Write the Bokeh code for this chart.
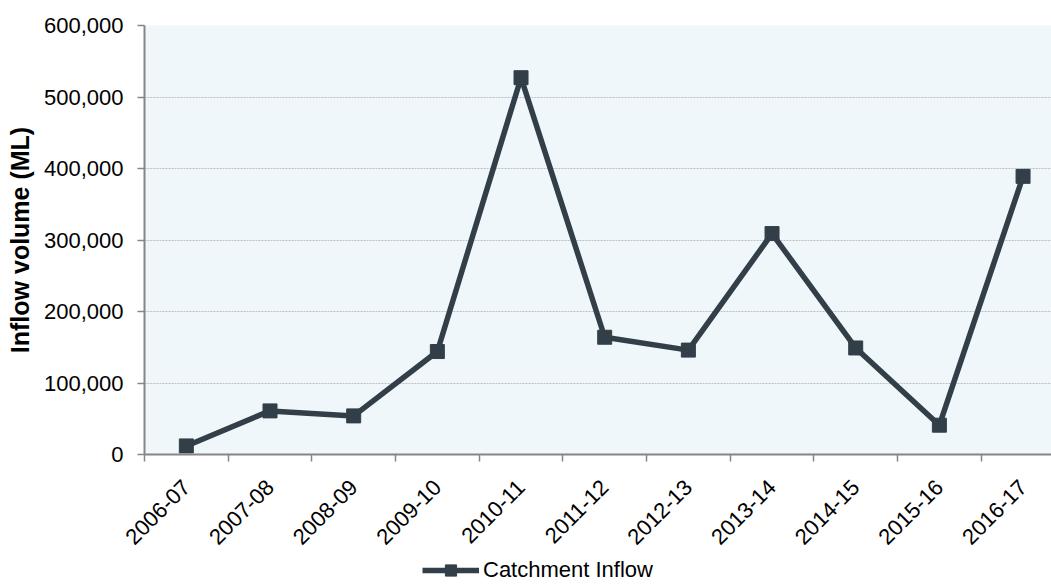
import math
from bokeh.plotting import figure
from bokeh.layouts import column
from bokeh.models import FixedTicker, NumeralTickFormatter, Legend, LegendItem, Range1d
from bokeh.embed import file_html
from bokeh.resources import INLINE

years = ["2006-07", "2007-08", "2008-09", "2009-10", "2010-11", "2011-12",
         "2012-13", "2013-14", "2014-15", "2015-16", "2016-17"]
inflow = [12000, 61000, 54000, 144000, 527000, 164000,
          146000, 309000, 149000, 41000, 389000]
y_ticks = [0, 100000, 200000, 300000, 400000, 500000, 600000]
series_name = "Catchment Inflow"

x = [i + 0.5 for i in range(len(years))]
bounds = [float(i) for i in range(len(years))]

FONT = "Liberation Sans"
LINE = "#333F48"
AXIS = "#868686"

p = figure(width=1051, height=556, output_backend="svg", toolbar_location=None,
           x_range=Range1d(0, 10.84), y_range=Range1d(0, 600000),
           min_border_left=144, min_border_right=0, min_border_top=25,
           min_border_bottom=102)
p.background_fill_color = "#F0F7FB"
p.border_fill_color = "white"
p.outline_line_color = None

p.line(x, inflow, line_color=LINE, line_width=5.5)
p.scatter(x, inflow, marker="square", size=14, color=LINE)

# x axis
xa = p.xaxis[0]
xa.ticker = FixedTicker(ticks=x, minor_ticks=bounds)
xa.major_label_overrides = {xi: yr for xi, yr in zip(x, years)}
xa.major_tick_out = 0
xa.major_tick_in = 0
xa.minor_tick_out = 7
xa.minor_tick_in = 0
xa.minor_tick_line_color = AXIS
xa.minor_tick_line_width = 1.5
xa.axis_line_color = AXIS
xa.axis_line_width = 2
xa.major_label_orientation = math.pi / 4
xa.major_label_text_font = FONT
xa.major_label_text_font_size = "22px"
xa.major_label_text_color = "#000000"
xa.major_label_standoff = 22

# y axis
ya = p.yaxis[0]
ya.ticker = FixedTicker(ticks=y_ticks)
ya.formatter = NumeralTickFormatter(format="0,0")
ya.major_tick_out = 7
ya.major_tick_in = 0
ya.minor_tick_out = 0
ya.minor_tick_in = 0
ya.major_tick_line_color = AXIS
ya.major_tick_line_width = 1.5
ya.axis_line_color = AXIS
ya.axis_line_width = 2
ya.major_label_text_font = FONT
ya.major_label_text_font_size = "22px"
ya.major_label_text_color = "#000000"
ya.major_label_standoff = 14
ya.axis_label = "Inflow volume (ML)"
ya.axis_label_text_font = FONT
ya.axis_label_text_font_size = "25px"
ya.axis_label_text_font_style = "bold"
ya.axis_label_text_color = "#000000"
ya.axis_label_standoff = 7

p.xgrid.visible = False
p.ygrid.grid_line_color = "#BFBFBF"
p.ygrid.grid_line_dash = "2 1"
p.ygrid.grid_line_width = 1

# legend strip below the chart (series drawn out of its view; only the key shows)
lg = figure(width=1051, height=28, output_backend="svg", toolbar_location=None,
            x_range=Range1d(0, 1), y_range=Range1d(0, 1), min_border=0)
lg.outline_line_color = None
lg.axis.visible = False
lg.grid.visible = False
lg.background_fill_color = "white"
k_line = lg.line(x, inflow, line_color=LINE, line_width=5.5)
k_pts = lg.scatter(x, inflow, marker="square", size=14, color=LINE)
legend = Legend(items=[LegendItem(label=series_name, renderers=[k_line, k_pts])],
                location=(278, 0), orientation="horizontal",
                background_fill_alpha=0, border_line_color=None,
                glyph_width=57, glyph_height=28, label_standoff=4,
                label_text_font=FONT, label_text_font_size="22px",
                label_text_color="#000000", padding=0, margin=0)
lg.add_layout(legend, "center")

layout = column(p, lg, spacing=0)
open("out.html", "w").write(file_html(layout, INLINE))
